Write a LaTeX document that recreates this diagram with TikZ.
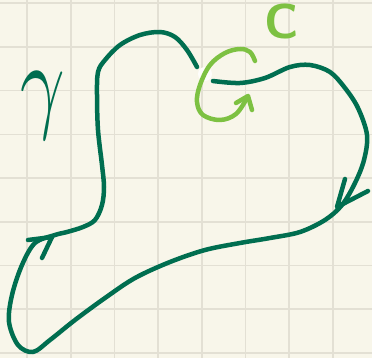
\documentclass[tikz,border=0pt]{standalone}
\usepackage{xcolor}
\usepackage{tikz}
\definecolor{paper}{HTML}{F8F6EA}
\definecolor{gridcol}{HTML}{E3E0D4}
\definecolor{gammagreen}{HTML}{006E50}
\definecolor{cgreen}{HTML}{7DC142}
\tikzset{
  gridline/.style={gridcol, line width=1.6pt},
  gammaline/.style={gammagreen, line width=4.5pt, line cap=round, line join=round},
  cline/.style={cgreen, line width=4.5pt, line cap=round, line join=round},
}

\begin{document}
\begin{tikzpicture}[x=1pt,y=-1pt]
        \fill[paper] (0,0) rectangle (372,358);
        \useasboundingbox (0,0) rectangle (372,358);
        % paper grid
        \foreach \i in {0,...,7}{
            \draw[gridline] (27+43.7*\i,0) -- (27+43.7*\i,358);
        }
        \foreach \j in {0,...,8}{
            \draw[gridline] (0,3.3+43.7*\j) -- (372,3.3+43.7*\j);
        }
        % the curve gamma
        \draw[gammaline] plot[smooth, tension=0.55] coordinates {(213,81) (240,83) (265,78) (290,67) (310,65) (330,72) (345,88) (358,108) (367,135) (364,160) (355,183) (342,205) (325,220) (300,232) (270,238) (240,243) (205,250) (170,262) (135,278) (105,298) (75,320) (50,340) (33,352) (18,345) (9,322) (12,295) (22,265) (35,243) (55,235) (67,232) (83,227) (95,220) (102,205) (104,187) (102,165) (98,130) (97,95) (98,72) (105,60) (120,45) (140,35) (160,32) (175,37) (187,50) (197,67)};
        \coordinate (rtip) at (337,207);
        \coordinate (ltip) at (52,237);
        \draw[gammaline] (345,179) -- (rtip) -- (368,191);
        \draw[gammaline] (28,240) -- (ltip);
        \draw[gammaline] (42,258) -- (ltip);
        % gap where C crosses
        \fill[white!80!paper] (205,74) circle (7);
        % the small loop C
        \draw[cline] plot[smooth, tension=0.6] coordinates {(255,61) (250,52) (240,49) (225,53) (210,65) (200,85) (197,102) (203,115) (220,120) (236,114) (247,98)};
        \coordinate (ctip) at (248,96);
        \draw[cline] (236,103) -- (ctip) -- (252,110);
        % labels
        \node[text=gammagreen, inner sep=0pt, scale=10.8, xscale=0.72] (gammalabel) at (43,106) {$\gamma$};
        \node[text=cgreen, inner sep=0pt, scale=4.9, font=\sffamily\bfseries] (clabel) at (282,21) {C};
    \end{tikzpicture}
\end{document}
